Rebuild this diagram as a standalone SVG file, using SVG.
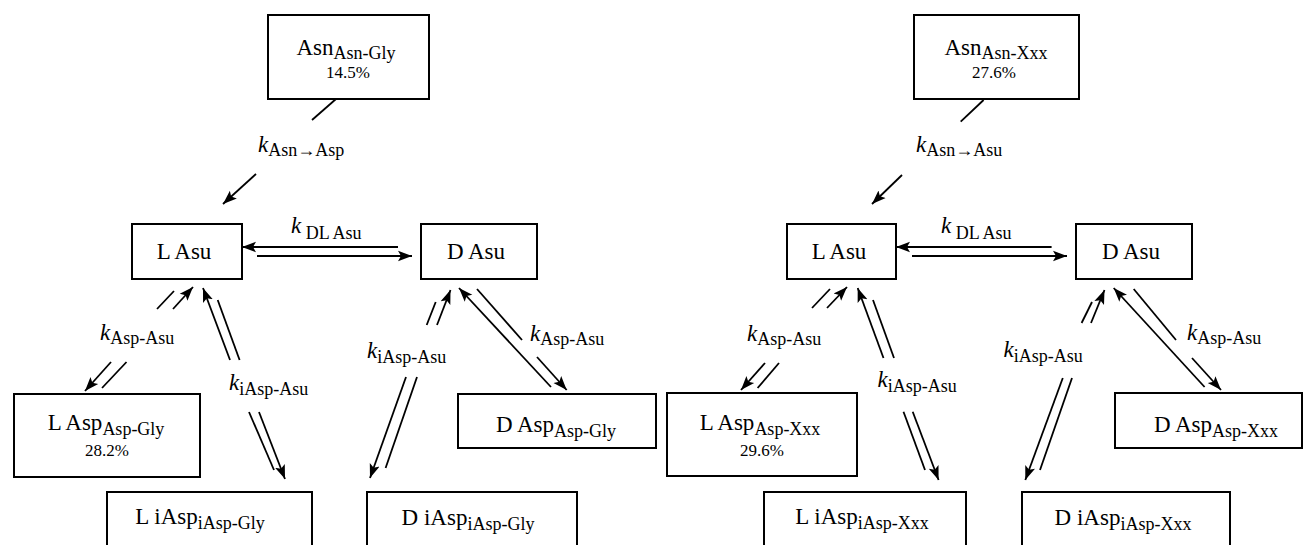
<svg xmlns="http://www.w3.org/2000/svg" width="1304" height="545" viewBox="0 0 1304 545">
<style>
text{font-family:"Liberation Serif","Times New Roman",serif;fill:#000}
.m{font-size:23px}
.s{font-size:18px}
.p{font-size:17px}
.k{font-size:23px;font-style:italic}
.box{fill:#fff;stroke:#000;stroke-width:2}
.ln{stroke:#000;stroke-width:1.8;fill:none}
.ar{stroke:#000;stroke-width:1.8;fill:none;marker-end:url(#ah)}
</style>
<defs>
<marker id="ah" markerUnits="userSpaceOnUse" markerWidth="15" markerHeight="12" refX="14" refY="6" orient="auto">
<path d="M0,0.8 L14,6 L0,11.2 L3,6 z" fill="#000"/>
</marker>
</defs>
<rect width="1304" height="545" fill="#fff"/>

<g id="connectors">
<line class="ln" x1="336" y1="99" x2="312" y2="120"/>
<line class="ar" x1="256" y1="174" x2="223" y2="204"/>
<line class="ar" x1="398" y1="247" x2="242" y2="247"/>
<line class="ar" x1="257" y1="256" x2="412" y2="256"/>
<line class="ln" x1="174" y1="291" x2="157" y2="309"/>
<line class="ar" x1="111" y1="362" x2="85" y2="391"/>
<line class="ln" x1="102" y1="388" x2="126.5" y2="362"/>
<line class="ar" x1="173" y1="309" x2="193" y2="287"/>
<line class="ar" x1="230" y1="360" x2="203" y2="288"/>
<line class="ln" x1="274" y1="470" x2="249" y2="412"/>
<line class="ln" x1="217.7" y1="300" x2="239.6" y2="360"/>
<line class="ar" x1="259" y1="412" x2="285" y2="479"/>
<line class="ln" x1="435.7" y1="302" x2="426.7" y2="325"/>
<line class="ar" x1="406" y1="377" x2="370" y2="478"/>
<line class="ln" x1="385.6" y1="468" x2="417" y2="377"/>
<line class="ar" x1="437" y1="325" x2="450.5" y2="290"/>
<line class="ar" x1="551" y1="387" x2="459" y2="288"/>
<line class="ln" x1="477" y1="289" x2="522" y2="340"/>
<line class="ar" x1="537" y1="357" x2="566.7" y2="390"/>
<line class="ln" x1="983.6" y1="100" x2="960.7" y2="121.7"/>
<line class="ar" x1="902" y1="175" x2="872" y2="204"/>
<line class="ar" x1="1051.6" y1="247" x2="896" y2="247"/>
<line class="ar" x1="912" y1="256" x2="1067" y2="256"/>
<line class="ln" x1="830" y1="289" x2="812" y2="308"/>
<line class="ar" x1="765" y1="363" x2="741" y2="390"/>
<line class="ln" x1="757.6" y1="388" x2="779" y2="363"/>
<line class="ar" x1="827" y1="308" x2="847" y2="287"/>
<line class="ar" x1="883.5" y1="358" x2="857.7" y2="288"/>
<line class="ln" x1="925" y1="470" x2="903.5" y2="411.7"/>
<line class="ln" x1="873" y1="300" x2="894" y2="358"/>
<line class="ar" x1="912.7" y1="411.7" x2="938.6" y2="480"/>
<line class="ln" x1="1092" y1="302" x2="1081.6" y2="323"/>
<line class="ar" x1="1062.8" y1="378" x2="1025.3" y2="480"/>
<line class="ln" x1="1040" y1="470" x2="1072" y2="378"/>
<line class="ar" x1="1091" y1="323" x2="1104.5" y2="290"/>
<line class="ar" x1="1204.6" y1="387" x2="1113.7" y2="288"/>
<line class="ln" x1="1133.7" y1="289" x2="1176" y2="340"/>
<line class="ar" x1="1192" y1="358" x2="1221" y2="390"/>
</g>

<g id="labels">
<text x="258" y="152"><tspan class="k">k</tspan><tspan class="s" dy="4">Asn→Asp</tspan></text>
<text x="291" y="233"><tspan class="k">k</tspan><tspan class="s" dy="6"> DL Asu</tspan></text>
<text x="100" y="340"><tspan class="k">k</tspan><tspan class="s" dy="4">Asp-Asu</tspan></text>
<text x="229" y="390"><tspan class="k">k</tspan><tspan class="s" dy="5">iAsp-Asu</tspan></text>
<text x="367" y="358"><tspan class="k">k</tspan><tspan class="s" dy="5">iAsp-Asu</tspan></text>
<text x="530" y="341"><tspan class="k">k</tspan><tspan class="s" dy="4">Asp-Asu</tspan></text>
<text x="916" y="152"><tspan class="k">k</tspan><tspan class="s" dy="4">Asn→Asu</tspan></text>
<text x="941" y="233"><tspan class="k">k</tspan><tspan class="s" dy="6"> DL Asu</tspan></text>
<text x="747" y="341"><tspan class="k">k</tspan><tspan class="s" dy="4">Asp-Asu</tspan></text>
<text x="877.5" y="387"><tspan class="k">k</tspan><tspan class="s" dy="5">iAsp-Asu</tspan></text>
<text x="1003.5" y="357"><tspan class="k">k</tspan><tspan class="s" dy="5">iAsp-Asu</tspan></text>
<text x="1187" y="340"><tspan class="k">k</tspan><tspan class="s" dy="4">Asp-Asu</tspan></text>
</g>

<g id="asn-gly">
<rect class="box" x="268" y="15" width="161" height="84"/>
<text x="346" y="55" text-anchor="middle"><tspan class="m">Asn</tspan><tspan class="s" dy="4">Asn-Gly</tspan></text>
<text class="p" x="348" y="78" text-anchor="middle">14.5%</text>
</g>
<g id="l-asu-1">
<rect class="box" x="132" y="224" width="110" height="55"/>
<text class="m" x="184" y="259" text-anchor="middle">L Asu</text>
</g>
<g id="d-asu-1">
<rect class="box" x="421" y="224" width="116" height="55"/>
<text class="m" x="476" y="259" text-anchor="middle">D Asu</text>
</g>
<g id="l-asp-gly">
<rect class="box" x="14" y="394" width="186" height="83"/>
<text x="106" y="430" text-anchor="middle"><tspan class="m">L Asp</tspan><tspan class="s" dy="5">Asp-Gly</tspan></text>
<text class="p" x="107" y="456" text-anchor="middle">28.2%</text>
</g>
<g id="d-asp-gly">
<rect class="box" x="458" y="394" width="198" height="54"/>
<text x="556" y="432" text-anchor="middle"><tspan class="m">D Asp</tspan><tspan class="s" dy="5">Asp-Gly</tspan></text>
</g>
<g id="l-iasp-gly">
<rect class="box" x="107" y="492" width="205" height="70"/>
<text x="200" y="524" text-anchor="middle"><tspan class="m">L iAsp</tspan><tspan class="s" dy="5">iAsp-Gly</tspan></text>
</g>
<g id="d-iasp-gly">
<rect class="box" x="367" y="492" width="210" height="70"/>
<text x="468" y="525" text-anchor="middle"><tspan class="m">D iAsp</tspan><tspan class="s" dy="5">iAsp-Gly</tspan></text>
</g>

<g id="asn-xxx">
<rect class="box" x="914" y="15" width="165" height="84"/>
<text x="996" y="55" text-anchor="middle"><tspan class="m">Asn</tspan><tspan class="s" dy="4">Asn-Xxx</tspan></text>
<text class="p" x="994" y="78" text-anchor="middle">27.6%</text>
</g>
<g id="l-asu-2">
<rect class="box" x="787" y="224" width="109" height="55"/>
<text class="m" x="839" y="259" text-anchor="middle">L Asu</text>
</g>
<g id="d-asu-2">
<rect class="box" x="1076" y="224" width="116" height="55"/>
<text class="m" x="1131" y="259" text-anchor="middle">D Asu</text>
</g>
<g id="l-asp-xxx">
<rect class="box" x="667" y="393" width="190" height="83"/>
<text x="760" y="430" text-anchor="middle"><tspan class="m">L Asp</tspan><tspan class="s" dy="5">Asp-Xxx</tspan></text>
<text class="p" x="762" y="456" text-anchor="middle">29.6%</text>
</g>
<g id="d-asp-xxx">
<rect class="box" x="1115" y="393" width="187" height="55"/>
<text x="1216" y="432" text-anchor="middle"><tspan class="m">D Asp</tspan><tspan class="s" dy="5">Asp-Xxx</tspan></text>
</g>
<g id="l-iasp-xxx">
<rect class="box" x="764" y="492" width="202" height="70"/>
<text x="862" y="524" text-anchor="middle"><tspan class="m">L iAsp</tspan><tspan class="s" dy="5">iAsp-Xxx</tspan></text>
</g>
<g id="d-iasp-xxx">
<rect class="box" x="1022" y="492" width="208" height="70"/>
<text x="1123" y="525" text-anchor="middle"><tspan class="m">D iAsp</tspan><tspan class="s" dy="5">iAsp-Xxx</tspan></text>
</g>
</svg>
